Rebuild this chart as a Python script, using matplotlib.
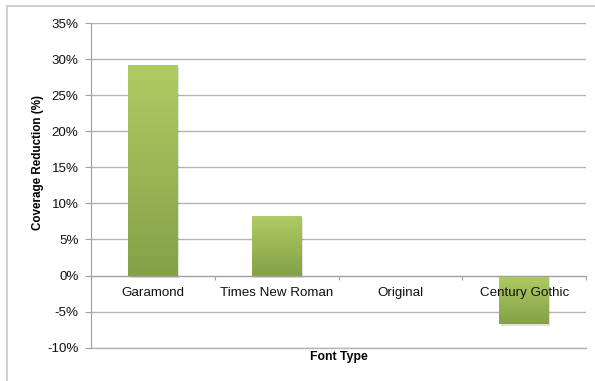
import matplotlib.pyplot as plt
import numpy as np
from matplotlib.patches import Rectangle
from matplotlib.ticker import FuncFormatter, FixedLocator

plt.rcParams['font.family'] = ['Liberation Sans', 'DejaVu Sans']

fonts = ['Garamond', 'Times New Roman', 'Original', 'Century Gothic']
reduction = [29.2, 8.3, 0.0, -6.7]
yticks = [-10, -5, 0, 5, 10, 15, 20, 25, 30, 35]

fig = plt.figure(figsize=(5.95, 3.81), dpi=100)
ax = fig.add_axes([91/595, 1 - 347.7/381, (586 - 91)/595, (347.7 - 23)/381])

# outer frame (only top and left visible in the original)
fig.patches.append(Rectangle((7/595, -0.1), 1.2, 1 - 6/381 + 0.1, transform=fig.transFigure,
                             fill=False, edgecolor='#c8c8c8', lw=1.2, zorder=0))

x = np.arange(len(fonts))
bars = ax.bar(x, reduction, width=0.4, color='none', zorder=3)

grad = np.linspace(0, 1, 256).reshape(-1, 1)
cmap = plt.matplotlib.colors.LinearSegmentedColormap.from_list('g', ['#85a148', '#afcc63'])
for b, v in zip(bars, reduction):
    if v == 0:
        continue
    x0, w = b.get_x(), b.get_width()
    lo, hi = min(0, v), max(0, v)
    shadow = Rectangle((x0 + 0.012, lo - 0.35), w, hi - lo, facecolor='#000000', alpha=0.12,
                       edgecolor='none', zorder=2)
    ax.add_patch(shadow)
    im = ax.imshow(grad, extent=(x0, x0 + w, lo, hi), origin='lower', cmap=cmap,
                   aspect='auto', zorder=4)
    im.set_clip_path(b)

ax.set_xlim(-0.5, len(fonts) - 0.5)
ax.set_ylim(-10, 35)
ax.set_yticks(yticks)
ax.yaxis.set_major_formatter(FuncFormatter(lambda v, p: f'{v:.0f}%'))
ax.grid(axis='y', color='#b4b4b4', lw=1.0, zorder=1)
ax.axhline(-10, color='#b4b4b4', lw=1.0, zorder=1, clip_on=False)
ax.set_axisbelow(True)

for s in ['top', 'right']:
    ax.spines[s].set_visible(False)
ax.spines['left'].set_color('#a0a0a0')
ax.spines['bottom'].set_position(('data', 0))
ax.spines['bottom'].set_color('#a0a0a0')
ax.spines['bottom'].set_zorder(5)

ax.xaxis.set_major_locator(FixedLocator([-0.5, 0.5, 1.5, 2.5, 3.5]))
ax.xaxis.set_major_formatter(FuncFormatter(lambda v, p: ''))
ax.tick_params(axis='x', which='major', length=3, color='#a0a0a0', direction='out')
ax.tick_params(axis='y', length=4, color='#a0a0a0', pad=5, labelsize=9.6, labelcolor='#111111')

# category labels drawn above the bars, just under the zero line
for xi, name in zip(x, fonts):
    ax.text(xi, -2.45, name, ha='center', va='center', fontsize=9.6, color='#111111', zorder=6)

ax.set_ylabel('Coverage Reduction (%)', fontsize=8.4, fontweight='bold')
ax.yaxis.set_label_coords(-0.094, 0.569)
fig.text((91 + 586) / 2 / 595, 1 - 357/381, 'Font Type', ha='center', va='center',
         fontsize=8.8, fontweight='bold')

fig.savefig('out.png', dpi=100)
